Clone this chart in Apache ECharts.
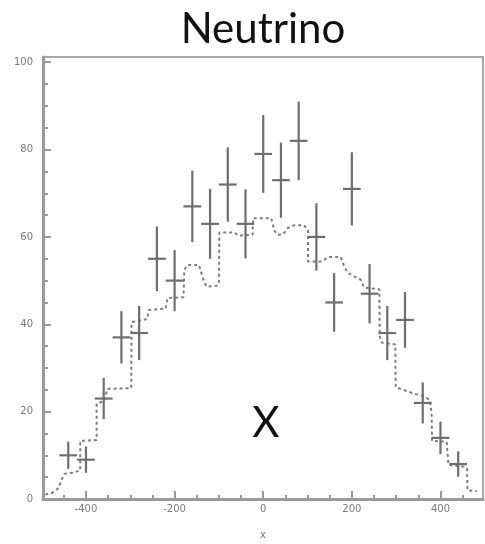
<!DOCTYPE html>
<html>
<head>
<meta charset="utf-8">
<title>Neutrino</title>
<script src="https://cdn.jsdelivr.net/npm/echarts@6/dist/echarts.min.js"></script>
<style>
  html, body { margin: 0; padding: 0; background: #ffffff; }
  #chart { width: 485px; height: 544px; }
</style>
</head>
<body>
<div id="chart"></div>
<script>
// Measured counts per bin (bin centres, counts, statistical errors)
const binCenters = [-440, -400, -360, -320, -280, -240, -200, -160, -120, -80, -40, 0,
                    40, 80, 120, 160, 200, 240, 280, 320, 360, 400, 440];
const counts     = [10, 9, 23, 37, 38, 55, 50, 67, 63, 72, 63, 79,
                    73, 82, 60, 45, 71, 47, 38, 41, 22, 14, 8];
const errors     = [3.1, 3.0, 4.7, 6.0, 6.2, 7.4, 7.0, 8.2, 8.0, 8.5, 7.9, 8.9,
                    8.6, 9.0, 7.7, 6.7, 8.4, 6.8, 6.2, 6.4, 4.7, 3.7, 2.9];
const binHalfWidth = 20;

// Expected distribution (dashed outline)
const expectedX = [-492, -475, -462, -455, -448, -430, -413, -413, -376, -376, -358, -352,
                   -298, -297, -262, -258, -220, -216, -180, -178, -170, -145, -136, -128,
                   -105, -100, -99, -64, -57, -24, -23, 18, 25, 32, 45, 55,
                   70, 92, 101, 101, 133, 146, 175, 182, 190, 220, 228, 262,
                   263, 268, 298, 299, 338, 360, 376, 380, 381, 414, 417, 418,
                   455, 460, 461, 482];
const expectedY = [1.0, 1.5, 2.5, 4.5, 5.8, 6.0, 6.5, 13.3, 13.5, 21.8, 22.5, 25.2,
                   25.4, 40.5, 41.2, 43.3, 43.6, 46.0, 46.2, 52.5, 53.6, 53.6, 50.5, 48.6,
                   48.8, 49.5, 61.0, 61.0, 60.3, 60.5, 64.3, 64.3, 61.5, 60.5, 60.6, 62.0,
                   62.7, 62.7, 61.5, 54.4, 54.4, 55.4, 55.4, 53.5, 51.8, 50.2, 48.4, 48.0,
                   37.2, 35.8, 35.4, 25.6, 24.2, 23.6, 22.7, 19.7, 13.3, 13.1, 12.8, 7.8,
                   7.4, 7.0, 2.0, 1.8];

// Axis ticks
const xMajorTicks = [-400, -200, 0, 200, 400];
const xMinorTicks = [-450, -400, -350, -300, -250, -200, -150, -100, -50, 0,
                     50, 100, 150, 200, 250, 300, 350, 400, 450];
const yMajorTicks = [0, 20, 40, 60, 80, 100];
const yMinorTicks = [0, 5, 10, 15, 20, 25, 30, 35, 40, 45, 50, 55, 60, 65, 70, 75,
                     80, 85, 90, 95, 100];

const xRange = [-497, 496];
const yRange = [0, 101.2];

const pointData = binCenters.map((x, i) => [x, counts[i], errors[i]]);
const expectedData = expectedX.map((x, i) => [x, expectedY[i]]);

const axisColor = '#9a9a9a';
const labelColor = '#7a7a7a';
const markColor = '#6e6e6e';

const chart = echarts.init(document.getElementById('chart'), null, { renderer: 'canvas' });

chart.setOption({
  animation: false,
  backgroundColor: '#ffffff',
  grid: {
    left: 43, right: 2, top: 57, bottom: 45,
    outerBoundsMode: 'none',
    containLabel: false,
    show: true, borderColor: '#a8a8a8', borderWidth: 2, backgroundColor: 'transparent'
  },
  graphic: [
    {
      type: 'text', x: 263, y: 29,
      style: {
        text: 'Neutrino', fontFamily: 'Lato', fontSize: 42, fill: '#111111',
        textAlign: 'center', textVerticalAlign: 'middle'
      }
    },
    {
      type: 'text', x: 266, y: 423, z: 10,
      style: {
        text: 'X', fontFamily: 'Lato', fontSize: 42, fill: '#111111',
        textAlign: 'center', textVerticalAlign: 'middle'
      }
    }
  ],
  xAxis: [
    {
      type: 'value', min: xRange[0], max: xRange[1], position: 'bottom',
      name: 'x', nameLocation: 'middle', nameGap: 31,
      nameTextStyle: { color: labelColor, fontSize: 10, fontFamily: 'DejaVu Sans' },
      axisLine: { show: true, onZero: false, lineStyle: { color: axisColor, width: 3 } },
      axisTick: { show: true, inside: true, length: 8, customValues: xMajorTicks,
                  lineStyle: { color: axisColor, width: 2 } },
      axisLabel: { show: true, customValues: xMajorTicks, margin: 5,
                   color: labelColor, fontSize: 10, fontFamily: 'DejaVu Sans' },
      splitLine: { show: false }
    },
    {
      type: 'value', min: xRange[0], max: xRange[1], position: 'bottom', offset: 0,
      axisLine: { show: false, onZero: false },
      axisTick: { show: true, inside: true, length: 4, customValues: xMinorTicks,
                  lineStyle: { color: axisColor, width: 2 } },
      axisLabel: { show: false },
      splitLine: { show: false }
    }
  ],
  yAxis: [
    {
      type: 'value', min: yRange[0], max: yRange[1], position: 'left',
      axisLine: { show: true, onZero: false, lineStyle: { color: axisColor, width: 3 } },
      axisTick: { show: true, inside: true, length: 8, customValues: yMajorTicks,
                  lineStyle: { color: axisColor, width: 2 } },
      axisLabel: { show: true, customValues: yMajorTicks, margin: 10,
                   color: labelColor, fontSize: 10, fontFamily: 'DejaVu Sans' },
      splitLine: { show: false }
    },
    {
      type: 'value', min: yRange[0], max: yRange[1], position: 'left', offset: 0,
      axisLine: { show: false, onZero: false },
      axisTick: { show: true, inside: true, length: 5, customValues: yMinorTicks,
                  lineStyle: { color: axisColor, width: 2 } },
      axisLabel: { show: false },
      splitLine: { show: false }
    }
  ],
  series: [
    {
      name: 'expected',
      type: 'line',
      xAxisIndex: 0, yAxisIndex: 0,
      data: expectedData,
      symbol: 'none',
      smooth: false,
      lineStyle: { color: '#7d7d7d', width: 2, type: [3, 3] },
      z: 2
    },
    {
      name: 'data',
      type: 'custom',
      xAxisIndex: 0, yAxisIndex: 0,
      data: pointData,
      z: 3,
      renderItem: function (params, api) {
        const x = api.value(0), y = api.value(1), e = api.value(2);
        const top = api.coord([x, y + e]);
        const bottom = api.coord([x, y - e]);
        const left = api.coord([x - binHalfWidth, y]);
        const right = api.coord([x + binHalfWidth, y]);
        const style = { stroke: markColor, lineWidth: 2.2, fill: null };
        return {
          type: 'group',
          children: [
            { type: 'line', shape: { x1: top[0], y1: top[1], x2: bottom[0], y2: bottom[1] }, style: style },
            { type: 'line', shape: { x1: left[0], y1: left[1], x2: right[0], y2: right[1] }, style: style }
          ]
        };
      }
    }
  ]
});
</script>
</body>
</html>
